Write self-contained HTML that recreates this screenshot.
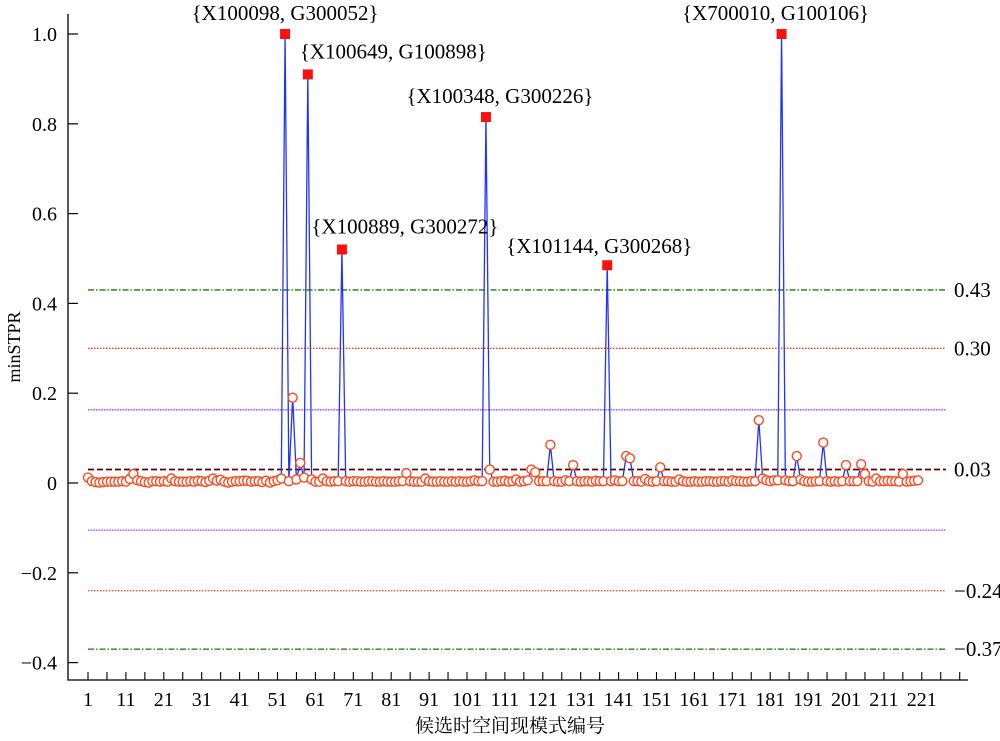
<!DOCTYPE html>
<html><head><meta charset="utf-8"><style>
body{margin:0;background:#fff}
svg{display:block;font-family:"Liberation Serif","Noto Serif CJK SC",serif}
</style></head><body>
<svg id="chart" width="1000" height="741" viewBox="0 0 1000 741"></svg>
<script>
const values = [
0.012,0.004,0.002,0.001,0.002,0.003,0.003,0.003,0.003,0.004,
0.003,0.009,0.02,0.006,0.004,0.002,0.001,0.004,0.004,0.003,
0.004,0.003,0.01,0.004,0.003,0.003,0.003,0.004,0.003,0.005,
0.004,0.002,0.005,0.01,0.005,0.007,0.003,0.001,0.003,0.004,
0.004,0.005,0.005,0.003,0.004,0.004,0.002,0.005,0.001,0.004,
0.006,0.01,1.0,0.004,0.19,0.008,0.045,0.012,0.91,0.008,
0.003,0.003,0.01,0.004,0.003,0.004,0.004,0.52,0.004,0.003,
0.004,0.004,0.003,0.003,0.004,0.004,0.003,0.003,0.004,0.003,
0.003,0.003,0.004,0.004,0.022,0.004,0.003,0.003,0.003,0.01,
0.004,0.003,0.003,0.004,0.003,0.003,0.004,0.003,0.004,0.003,
0.003,0.004,0.006,0.004,0.004,0.815,0.03,0.003,0.003,0.004,
0.005,0.003,0.004,0.008,0.003,0.004,0.006,0.03,0.024,0.004,
0.004,0.004,0.085,0.004,0.003,0.003,0.006,0.004,0.04,0.004,
0.003,0.004,0.004,0.003,0.005,0.004,0.004,0.485,0.004,0.006,
0.004,0.004,0.06,0.055,0.004,0.004,0.003,0.009,0.004,0.003,
0.004,0.035,0.004,0.004,0.003,0.003,0.008,0.004,0.003,0.003,
0.004,0.003,0.003,0.004,0.004,0.003,0.003,0.004,0.004,0.003,
0.006,0.004,0.004,0.003,0.003,0.004,0.004,0.14,0.01,0.006,
0.004,0.006,0.006,1.0,0.006,0.004,0.004,0.06,0.008,0.004,
0.003,0.003,0.004,0.004,0.09,0.004,0.003,0.004,0.003,0.004,
0.04,0.004,0.004,0.004,0.042,0.02,0.004,0.003,0.01,0.004,
0.004,0.005,0.004,0.004,0.003,0.02,0.003,0.004,0.005,0.006
];
const yTicks = [1.0,0.8,0.6,0.4,0.2,0,-0.2,-0.4];
const yTickLabels = ["1.0","0.8","0.6","0.4","0.2","0","\u22120.2","\u22120.4"];
const xTickLabels = [1,11,21,31,41,51,61,71,81,91,101,111,121,131,141,151,161,171,181,191,201,211,221];
const thresholds = [0.43,0.30,0.163,0.03,-0.105,-0.24,-0.37];
const thresholdLabels = ["0.43","0.30","","0.03","","\u22120.24","\u22120.37"];
const annotIndex = [53,59,106,68,138,184];
const annotText = ["{X100098, G300052}","{X100649, G100898}","{X100348, G300226}","{X100889, G300272}","{X101144, G300268}","{X700010, G100106}"];

const svg=document.getElementById('chart');
const NS='http://www.w3.org/2000/svg';
const X=i=>88+(i-1)*3.79;
const Y=v=>483-v*449;
function mk(t,a,p){const e=document.createElementNS(NS,t);for(const k in a)e.setAttribute(k,a[k]);(p||svg).appendChild(e);return e;}

const styles=[
 {c:'#1a7a00',d:'6 2 1.5 2',w:1.3},{c:'#ff4010',d:'1.5 1.5',w:1.3},{c:'#a040ff',d:'1 0.6',w:1.3},
 {c:'#5a0000',d:'6 3',w:1.8},{c:'#a040ff',d:'1 0.6',w:1.3},{c:'#ff4010',d:'1.5 1.5',w:1.3},{c:'#1a7a00',d:'6 2 1.5 2',w:1.3}];
thresholds.forEach((t,k)=>{
 const l=mk('line',{x1:88,x2:946,y1:Y(t),y2:Y(t),stroke:styles[k].c,'stroke-width':styles[k].w,'stroke-dasharray':styles[k].d});
 
 
 if(thresholdLabels[k]){const tx=mk('text',{x:954,y:Y(t)+7,'font-size':21});tx.textContent=thresholdLabels[k];
 
 }
});

const ax=mk('path',{d:'M68 14 V680 H968',fill:'none',stroke:'#000','stroke-width':1.3});


yTicks.forEach((v,k)=>{
 mk('line',{x1:68,x2:78,y1:Y(v),y2:Y(v),stroke:'#000','stroke-width':1.2});
 const t=mk('text',{x:57,y:Y(v)+7,'font-size':20,'text-anchor':'end'});t.textContent=yTickLabels[k];
 
 
});
for(let i=1;i<=231;i+=5){mk('line',{x1:X(i),x2:X(i),y1:680,y2:672,stroke:'#000','stroke-width':1.1});}
xTickLabels.forEach(v=>{
 const t=mk('text',{x:X(v),y:706,'font-size':20,'text-anchor':'middle'});t.textContent=v;
 
 
});
const yt=mk('text',{x:0,y:0,'font-size':18,'text-anchor':'middle',transform:'translate(20,347) rotate(-90)'});yt.textContent='minSTPR';


const xt=mk('text',{x:510,y:732,'font-size':19,'text-anchor':'middle'});xt.textContent='候选时空间现模式编号';



const pl=mk('polyline',{points:values.map((v,i)=>X(i+1)+','+Y(v)).join(' '),fill:'none',stroke:'#2233ff','stroke-width':1.3});


values.forEach((v,i)=>{
 let m;
 if(v>0.3){m=mk('rect',{x:X(i+1)-5,y:Y(v)-5,width:10,height:10,fill:'#ff1010'});}
 else{m=mk('circle',{cx:X(i+1),cy:Y(v),r:4.5,fill:'#fff',stroke:'#ff4a20','stroke-width':1.4});}
 
 
});
const offs=[[0,-20],[0,-22],[14,-20],[0,-22],[-8,-18],[-6,-20]];
annotIndex.forEach((idx,k)=>{
 const v=values[idx-1];
 let x=X(idx)+offs[k][0],anchor='middle';
 if(k===1){x=X(idx)-8;anchor='start';}
 if(k===3){x=X(idx)+63;}
 const t=mk('text',{x:x,y:Y(v)+offs[k][1]+6,'font-size':21,'text-anchor':anchor});
 t.textContent=annotText[k];
 
 
});
</script>
</body></html>
